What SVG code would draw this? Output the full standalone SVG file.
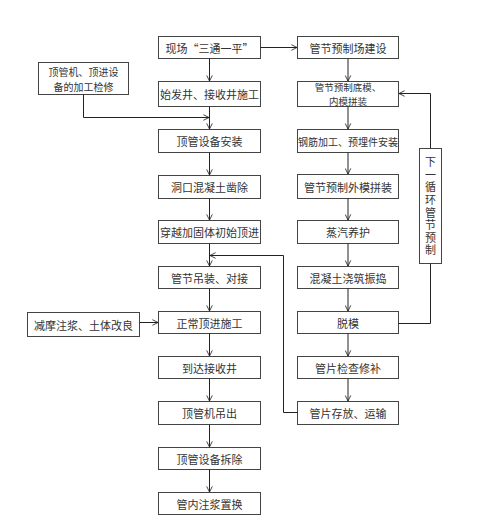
<svg xmlns="http://www.w3.org/2000/svg" width="481" height="530" viewBox="0 0 481 530">
<style>
rect{fill:#fff;stroke:#444;stroke-width:1}
text{font-family:"Noto Sans CJK SC","Noto Sans CJK JP",sans-serif;font-size:11px;fill:#333;text-anchor:middle;dominant-baseline:central}
.c path{fill:none;stroke:#222;stroke-width:1}
</style>
<defs>
<marker id="a" viewBox="0 0 10 10" refX="9" refY="5" markerWidth="7" markerHeight="7" orient="auto" markerUnits="userSpaceOnUse"><path d="M1 1L9 5L1 9" fill="none" stroke="#222" stroke-width="1.2"/></marker>
</defs>
<rect width="481" height="530" style="fill:#fff;stroke:none"/>
<g id="L1"><rect x="158.5" y="36.5" width="102" height="22"/><text x="209.5" y="47.5">现场“三通一平”</text></g>
<g id="L2"><rect x="158.5" y="81.5" width="102" height="25"/><text x="209.5" y="94">始发井、接收井施工</text></g>
<g id="L3"><rect x="158.5" y="129.5" width="102" height="23"/><text x="209.5" y="141">顶管设备安装</text></g>
<g id="L4"><rect x="158.5" y="175.5" width="102" height="23"/><text x="209.5" y="187">洞口混凝土凿除</text></g>
<g id="L5"><rect x="158.5" y="220.5" width="102" height="23"/><text x="209.5" y="232">穿越加固体初始顶进</text></g>
<g id="L6"><rect x="158.5" y="266.5" width="102" height="22"/><text x="209.5" y="277.5">管节吊装、对接</text></g>
<g id="L7"><rect x="158.5" y="311.5" width="102" height="22"/><text x="209.5" y="322.5">正常顶进施工</text></g>
<g id="L8"><rect x="158.5" y="356.5" width="102" height="22"/><text x="209.5" y="367.5">到达接收井</text></g>
<g id="L9"><rect x="158.5" y="401.5" width="102" height="23"/><text x="209.5" y="413">顶管机吊出</text></g>
<g id="L10"><rect x="158.5" y="447.5" width="102" height="22"/><text x="209.5" y="458.5">顶管设备拆除</text></g>
<g id="L11"><rect x="158.5" y="492.5" width="102" height="22"/><text x="209.5" y="503.5">管内注浆置换</text></g>
<g id="R1"><rect x="297.5" y="36.5" width="101" height="22"/><text x="348" y="47.5">管节预制场建设</text></g>
<g id="R2"><rect x="297.5" y="81.5" width="101" height="25"/><text x="348" y="87.4" style="font-size:9.5px"><tspan x="348">管节预制底模、</tspan><tspan x="348" dy="14">内模拼装</tspan></text></g>
<g id="R3"><rect x="297.5" y="129.5" width="101" height="23"/><text x="348" y="141" style="font-size:10px">钢筋加工、预埋件安装</text></g>
<g id="R4"><rect x="297.5" y="174.5" width="101" height="24"/><text x="348" y="186.5">管节预制外模拼装</text></g>
<g id="R5"><rect x="297.5" y="220.5" width="101" height="23"/><text x="348" y="232">蒸汽养护</text></g>
<g id="R6"><rect x="297.5" y="266.5" width="101" height="22"/><text x="348" y="277.5">混凝土浇筑振捣</text></g>
<g id="R7"><rect x="297.5" y="311.5" width="101" height="22"/><text x="348" y="322.5">脱模</text></g>
<g id="R8"><rect x="297.5" y="356.5" width="101" height="22"/><text x="348" y="367.5">管片检查修补</text></g>
<g id="R9"><rect x="297.5" y="401.5" width="101" height="23"/><text x="348" y="413">管片存放、运输</text></g>
<g id="S1"><rect x="38.5" y="62.5" width="90" height="32"/><text x="83.5" y="71.2" style="font-size:10px"><tspan x="83.5">顶管机、顶进设</tspan><tspan x="83.5" dy="14.8">备的加工检修</tspan></text></g>
<g id="S2"><rect x="27.5" y="312.5" width="112" height="24"/><text x="83.5" y="324.5">减摩注浆、土体改良</text></g>
<g id="S3"><rect x="419.5" y="148.5" width="22" height="115"/>
<text x="430.5" y="156.5" style="writing-mode:vertical-rl;text-anchor:start;letter-spacing:1.6px;dominant-baseline:central">下一循环管节预制</text></g>
<g class="c" id="connectors">
<path d="M209.5 58.5V81" marker-end="url(#a)"/>
<path d="M209.5 106.5V129" marker-end="url(#a)"/>
<path d="M209.5 152.5V175" marker-end="url(#a)"/>
<path d="M209.5 198.5V220" marker-end="url(#a)"/>
<path d="M209.5 243.5V266" marker-end="url(#a)"/>
<path d="M209.5 288.5V311" marker-end="url(#a)"/>
<path d="M209.5 333.5V356" marker-end="url(#a)"/>
<path d="M209.5 378.5V401" marker-end="url(#a)"/>
<path d="M209.5 424.5V447" marker-end="url(#a)"/>
<path d="M209.5 469.5V492" marker-end="url(#a)"/>
<path d="M348 58.5V81" marker-end="url(#a)"/>
<path d="M348 106.5V129" marker-end="url(#a)"/>
<path d="M348 152.5V174" marker-end="url(#a)"/>
<path d="M348 198.5V220" marker-end="url(#a)"/>
<path d="M348 243.5V266" marker-end="url(#a)"/>
<path d="M348 288.5V311" marker-end="url(#a)"/>
<path d="M348 333.5V356" marker-end="url(#a)"/>
<path d="M348 378.5V401" marker-end="url(#a)"/>
<path d="M260.5 47.5H297" marker-end="url(#a)"/>
<path d="M83.5 94.5V117.5H209" marker-end="url(#a)"/>
<path d="M139.5 322.5H158" marker-end="url(#a)"/>
<path d="M297.5 412.5H283.5V255.5H210" marker-end="url(#a)"/>
<path d="M398.5 323.5H430.5V263.5"/>
<path d="M430.5 148.5V93.5H399" marker-end="url(#a)"/>
</g>
</svg>
